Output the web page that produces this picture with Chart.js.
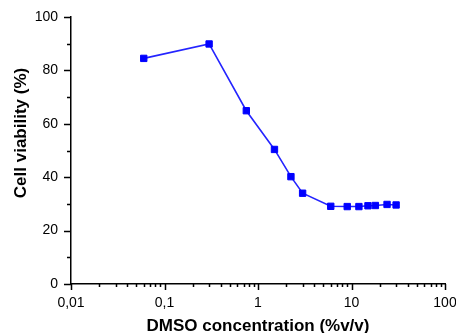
<!DOCTYPE html>
<html>
<head>
<meta charset="utf-8">
<script src="https://cdn.jsdelivr.net/npm/chart.js@4/dist/chart.umd.min.js"></script>
<style>
  html, body { margin: 0; padding: 0; background: #fff; }
  #chart { display: block; }
</style>
</head>
<body>
<canvas id="chart" width="456" height="333"></canvas>
<script>
// datos
const concentrations = [0.06, 0.3, 0.75, 1.5, 2.25, 3, 6, 9, 12, 15, 18, 24, 30];
const viability = [84.5, 89.9, 64.9, 50.4, 40.2, 34.0, 29.1, 29.0, 29.0, 29.3, 29.4, 29.8, 29.6];
const xMajorValues = [0.01, 0.1, 1, 10, 100];
const xTickLabels = ["0,01", "0,1", "1", "10", "100"];
const yTickLabels = ["0", "20", "40", "60", "80", "100"];

const FONT = "'Liberation Sans', Arial, sans-serif";
const BLUE = "#0000ff";

// marcas de ticks (mayores mas largas) y titulos de ejes
const tickMarks = {
    id: "tickMarks",
    afterDraw(chart) {
        const ctx = chart.ctx;
        const xs = chart.scales.x, ys = chart.scales.y;
        ctx.save();
        ctx.strokeStyle = "#000";
        ctx.lineWidth = 1.5;
        ctx.beginPath();
        xs.ticks.forEach(t => {
            const px = Math.round(xs.getPixelForValue(t.value)) + 0.5;
            const major = xMajorValues.some(v => Math.abs(v - t.value) < v * 1e-6);
            ctx.moveTo(px, xs.top);
            ctx.lineTo(px, xs.top + (major ? 6 : 3));
        });
        ys.ticks.forEach(t => {
            const py = Math.round(ys.getPixelForValue(t.value)) + 0.5;
            const major = t.value % 20 === 0;
            ctx.moveTo(ys.right, py);
            ctx.lineTo(ys.right - (major ? 7 : 4), py);
        });
        ctx.stroke();

        ctx.fillStyle = "#000";
        ctx.font = "bold 17px " + FONT;
        ctx.textAlign = "center";
        ctx.textBaseline = "middle";
        const area = chart.chartArea;
        ctx.fillText("DMSO concentration (%v/v)", (area.left + area.right) / 2, 326);
        ctx.translate(21, 133);
        ctx.rotate(-Math.PI / 2);
        ctx.fillText("Cell viability (%)", 0, 0);
        ctx.restore();
    }
};

const data = concentrations.map((c, i) => ({ x: c, y: viability[i] }));

new Chart(document.getElementById("chart"), {
    type: "line",
    data: {
        datasets: [{
            data: data,
            borderColor: "#2424ff",
            borderWidth: 1.6,
            pointStyle: "rect",
            pointRadius: 4.5,
            pointBackgroundColor: BLUE,
            pointBorderColor: BLUE,
            pointBorderWidth: 1,
            tension: 0
        }]
    },
    options: {
        responsive: false,
        animation: false,
        layout: { padding: { top: 17, right: 11, left: 0, bottom: 0 } },
        plugins: { legend: { display: false }, tooltip: { enabled: false } },
        scales: {
            x: {
                type: "logarithmic",
                min: 0.01,
                max: 100,
                grid: { display: false },
                border: { display: true, color: "#000", width: 1.5 },
                afterBuildTicks: scale => {
                    const ticks = [];
                    for (let d = 0; d < 4; d++) {
                        for (let m = 1; m <= 9; m++) {
                            ticks.push({ value: Number((m * xMajorValues[d]).toPrecision(3)) });
                        }
                    }
                    ticks.push({ value: 100 });
                    scale.ticks = ticks;
                },
                afterFit: scale => {
                    scale.height = 49;
                    scale.paddingLeft = 0;
                    scale.paddingRight = 0;
                },
                ticks: {
                    autoSkip: false,
                    maxRotation: 0,
                    padding: 3,
                    color: "#000",
                    font: { family: FONT, size: 14 },
                    callback: function (value) {
                        const i = xMajorValues.findIndex(v => Math.abs(v - value) < v * 1e-6);
                        return i >= 0 ? xTickLabels[i] : "";
                    }
                }
            },
            y: {
                min: 0,
                max: 100,
                grid: { display: false },
                border: { display: true, color: "#000", width: 1.5 },
                afterFit: scale => {
                    scale.width = 71;
                    scale.paddingTop = 0;
                    scale.paddingBottom = 0;
                },
                ticks: {
                    stepSize: 10,
                    padding: 5,
                    color: "#000",
                    font: { family: FONT, size: 14 },
                    callback: function (value) {
                        return value % 20 === 0 ? yTickLabels[value / 20] : "";
                    }
                }
            }
        }
    },
    plugins: [tickMarks]
});
</script>
</body>
</html>
